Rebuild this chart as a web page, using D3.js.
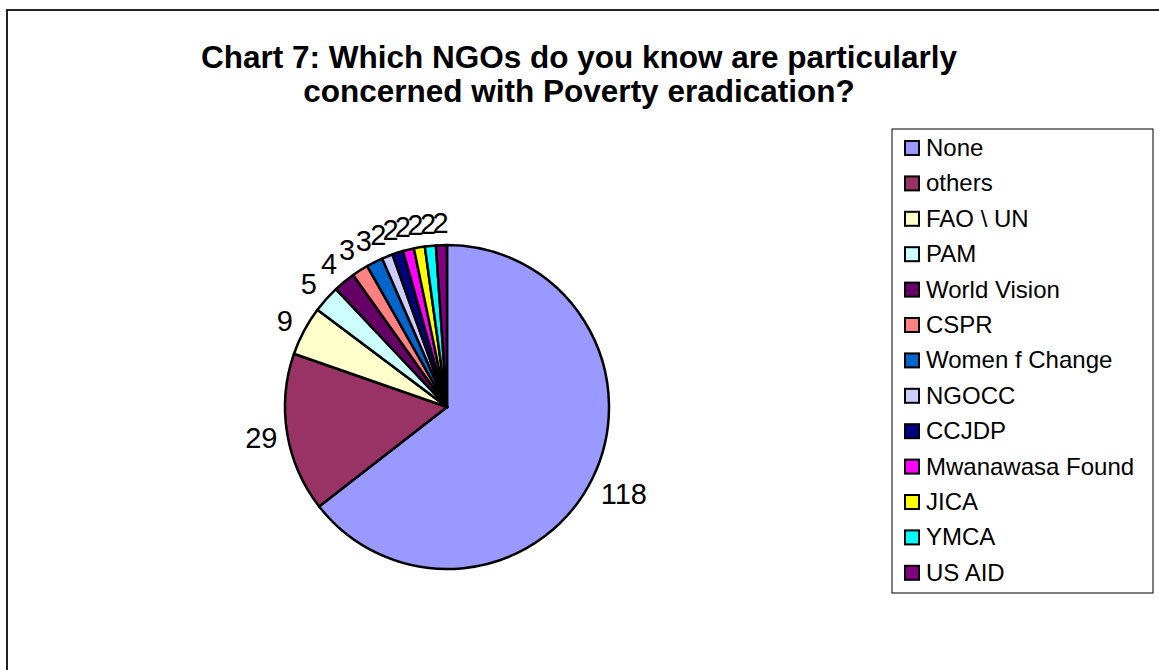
<!DOCTYPE html>
<html>
<head>
<meta charset="utf-8">
<script src="https://cdn.jsdelivr.net/npm/d3@7"></script>
<style>
  body { margin: 0; background: #fff; }
  svg { font-family: "Liberation Sans", Arial, sans-serif; }
</style>
</head>
<body>
<svg id="chart" width="1159" height="670"></svg>
<script>
// Data
const categories = ["None", "others", "FAO \\ UN", "PAM", "World Vision", "CSPR", "Women f Change",
  "NGOCC", "CCJDP", "Mwanawasa Found", "JICA", "YMCA", "US AID"];
const values = [118, 29, 9, 5, 4, 3, 3, 2, 2, 2, 2, 2, 2];
const colors = ["#9999FF", "#993366", "#FFFFCC", "#CCFFFF", "#660066", "#FF8080", "#0066CC",
  "#CCCCFF", "#000080", "#FF00FF", "#FFFF00", "#00FFFF", "#800080"];
const titleLines = ["Chart 7: Which NGOs do you know are particularly",
  "concerned with Poverty eradication?"];

const W = 1159, H = 670;
const cx = 447, cy = 407, r = 162;

const svg = d3.select("#chart");

// outer frame
svg.append("rect")
  .attr("x", 7).attr("y", 10)
  .attr("width", W + 20).attr("height", H + 20)
  .attr("fill", "none").attr("stroke", "#222").attr("stroke-width", 2);

// title
svg.append("text")
  .attr("text-anchor", "middle")
  .style("font-size", "31.5px").style("font-weight", "bold")
  .selectAll("tspan")
  .data(titleLines)
  .enter()
  .append("tspan")
  .attr("x", 579)
  .attr("y", (d, i) => 68 + i * 34)
  .text(d => d);

const color = d3.scaleOrdinal().domain(categories).range(colors);

const pie = d3.pie().sort(null).value(d => d.value);
const arcs = pie(categories.map((c, i) => ({ name: c, value: values[i] })));
const arc = d3.arc().innerRadius(0).outerRadius(r);

const g = svg.append("g").attr("transform", `translate(${cx},${cy})`);

g.selectAll("path")
  .data(arcs)
  .enter()
  .append("path")
  .attr("d", arc)
  .attr("fill", d => color(d.data.name))
  .attr("stroke", "#000")
  .attr("stroke-width", 2.5)
  .attr("stroke-linejoin", "round");

// labels just outside each slice
const fs = 29, cap = fs * 0.716, boxH = 28, gap = 8;
g.selectAll("text.lbl")
  .data(arcs)
  .enter()
  .append("text")
  .attr("class", "lbl")
  .attr("text-anchor", "middle")
  .style("font-size", fs + "px")
  .text(d => d.data.value)
  .each(function(d) {
    const a = (d.startAngle + d.endAngle) / 2;
    const dx = Math.sin(a), dy = -Math.cos(a);
    const w = this.getComputedTextLength();
    const dist = r + gap + Math.abs(dx) * w / 2 + Math.abs(dy) * boxH / 2;
    d3.select(this)
      .attr("x", dx * dist)
      .attr("y", dy * dist + cap / 2);
  });

// legend
const lx = 892, ly = 129, lw = 261, lh = 464, step = 35.4;
const legend = svg.append("g");
legend.append("rect")
  .attr("x", lx).attr("y", ly).attr("width", lw).attr("height", lh)
  .attr("fill", "#fff").attr("stroke", "#000").attr("stroke-width", 1);

const item = legend.selectAll("g.item")
  .data(categories)
  .enter()
  .append("g")
  .attr("class", "item")
  .attr("transform", (d, i) => `translate(0,${i * step})`);

item.append("rect")
  .attr("x", 905).attr("y", 141)
  .attr("width", 14).attr("height", 14)
  .attr("fill", d => color(d))
  .attr("stroke", "#000").attr("stroke-width", 2);

item.append("text")
  .attr("x", 926).attr("y", 156)
  .style("font-size", "24px")
  .text(d => d);
</script>
</body>
</html>
